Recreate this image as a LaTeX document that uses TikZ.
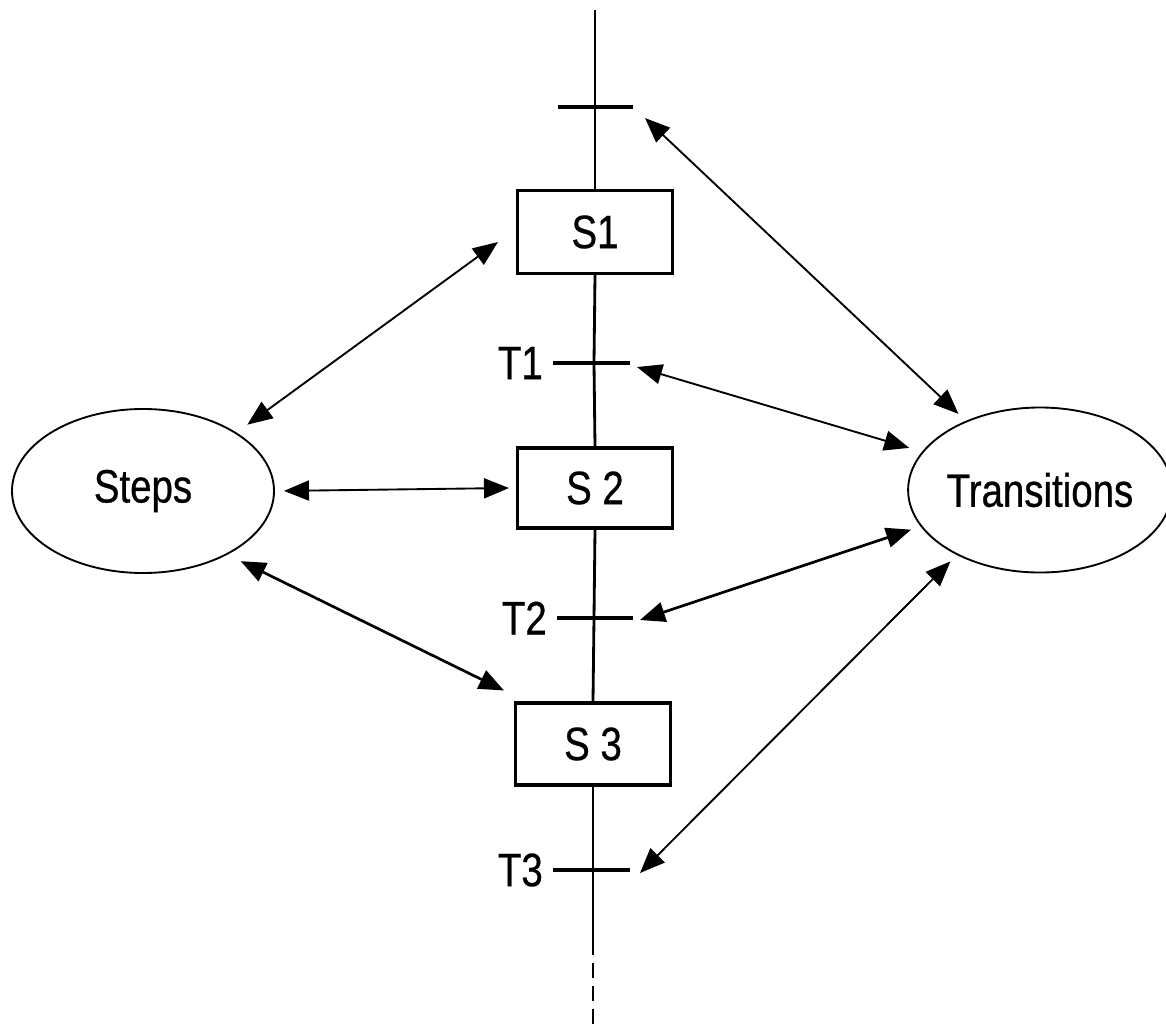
\documentclass[tikz,border=0pt]{standalone}
\usepackage{fontspec}
\setmainfont{Liberation Sans}[FakeStretch=0.82,FakeBold=0.6]
\usetikzlibrary{arrows.meta,shapes.geometric}
\begin{document}
\begin{tikzpicture}[x=0.03cm,y=-0.03cm,
  txt/.style={font=\fontsize{40}{46}\selectfont},
  lab/.style={txt, inner sep=0pt},
  stepbox/.style={draw, line width=2.6pt, fill=white, minimum width=4.65cm,
    minimum height=2.5cm, inner sep=0pt, txt},
  group/.style={draw, ellipse, line width=1.6pt, inner sep=0pt, txt},
  flow/.style={line width=2.4pt},
  bar/.style={line width=2.8pt},
  link/.style={{Triangle[length=0.75cm,width=0.6cm]}-{Triangle[length=0.75cm,width=0.6cm]},
    line width=1.6pt},
  heavy/.style={line width=2.3pt}
]
\useasboundingbox (0,0) rectangle (1166,1030);
\fill[white] (0,0) rectangle (1166,1030);

% steps of the chart
\node[stepbox] (s1) at (595,232) {S1};
\node[stepbox, minimum height=2.4cm] (s2) at (595,488) {S 2};
\node[stepbox, minimum height=2.46cm] (s3) at (593,744) {S 3};

% transition bars
\coordinate (top) at (595,10);
\coordinate (tb)  at (595,107);
\coordinate (tbl) at (558,107);
\coordinate (tbr) at (633,107);
\coordinate (t1)  at (594,363);
\coordinate (t1l) at (553,363);
\coordinate (t1r) at (630,363);
\coordinate (t2)  at (594,618);
\coordinate (t2l) at (557,618);
\coordinate (t2r) at (633,618);
\coordinate (t3)  at (593,870);
\coordinate (t3l) at (553,870);
\coordinate (t3r) at (630,870);
\coordinate (solidend) at (593,955);
\coordinate (bottom) at (593,1030);

% the sequence line
\draw[flow] (top) -- (tb) -- (s1.north);
\draw[flow] (s1.south) -- (t1) -- (s2.north);
\draw[flow] (s2.south) -- (t2) -- (s3.north);
\draw[flow] (s3.south) -- (t3) -- (solidend);
\draw[flow, dash pattern=on 0.45cm off 0.24cm] ([yshift=-0.24cm]solidend) -- (bottom);

\draw[bar] (tbl) -- (tbr);
\draw[bar] (t1l) -- (t1r);
\draw[bar] (t2l) -- (t2r);
\draw[bar] (t3l) -- (t3r);

\node[lab, anchor=east] (lt1) at ([xshift=-0.3cm]t1l) {T1};
\node[lab, anchor=east] (lt2) at ([xshift=-0.3cm]t2l) {T2};
\node[lab, anchor=east] (lt3) at ([xshift=-0.3cm]t3l) {T3};

% the two groups
\node[group, minimum width=7.86cm, minimum height=4.92cm] (st) at (143,491) {Steps};
\node[group, minimum width=7.74cm, minimum height=4.95cm] (tr) at (1040,490) {Transitions};

% links to the groups
\draw[link, shorten <=0.4cm] (st.32.9) -- ([shift={(-18,10)}]s1.west);
\draw[link, shorten <=0.27cm] (st.east) -- ([xshift=-0.21cm]s2.west);
\draw[link, heavy, shorten <=0.44cm] (st.-37.5) -- ([shift={(-10,-11)}]s3.north west);

\draw[link, shorten >=0.3cm] ([shift={(12,11)}]tbr) -- (tr.137.6);
\draw[link, shorten >=0.4cm] ([shift={(7,4)}]t1r) -- (tr.162.9);
\draw[link, heavy, shorten >=0.3cm] ([shift={(7,2)}]t2r) -- (tr.197.7);
\draw[link, shorten >=0.27cm] ([shift={(10,3)}]t3r) -- (tr.218.8);
\end{tikzpicture}
\end{document}
